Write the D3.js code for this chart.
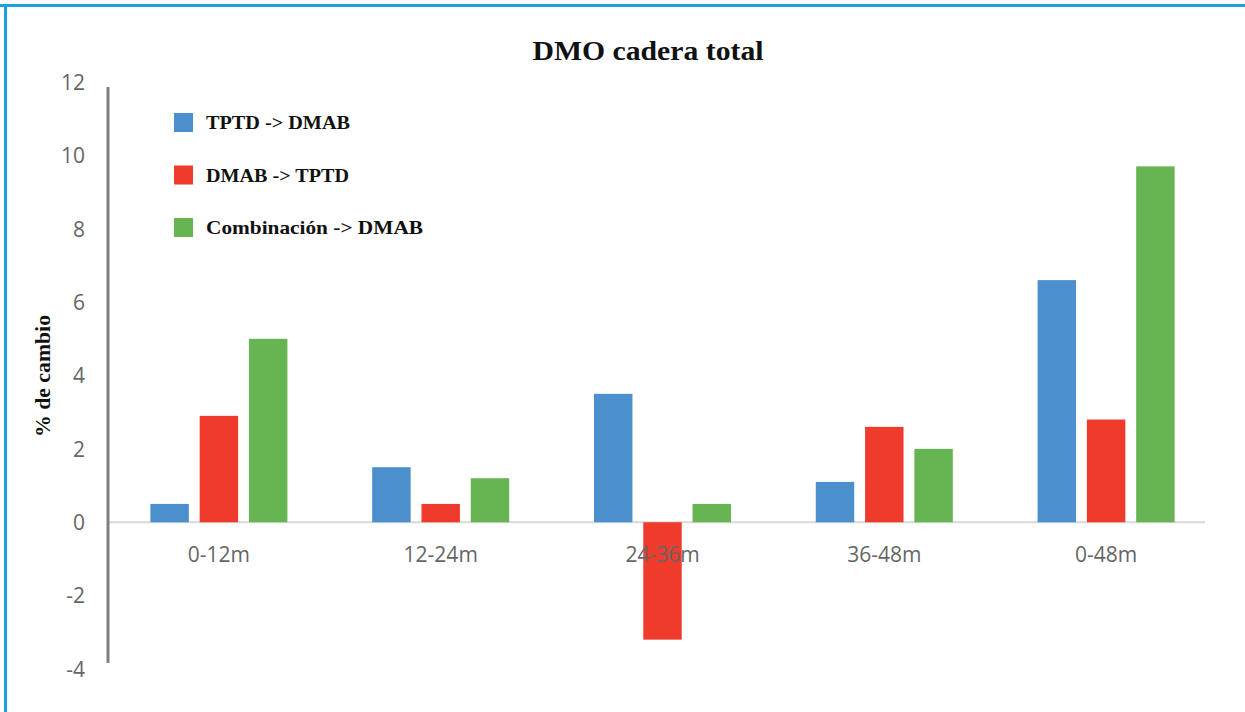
<!DOCTYPE html>
<html>
<head>
<meta charset="utf-8">
<script src="https://cdn.jsdelivr.net/npm/d3@7"></script>
<style>
  html, body { margin: 0; padding: 0; background: #fff; }
  svg { display: block; }
</style>
</head>
<body>
<svg id="chart" width="1245" height="712"></svg>
<script>
const categories = ["0-12m", "12-24m", "24-36m", "36-48m", "0-48m"];
const seriesNames = ["TPTD -> DMAB", "DMAB -> TPTD", "Combinación -> DMAB"];
const tptdToDmab = [0.5, 1.5, 3.5, 1.1, 6.6];
const dmabToTptd = [2.9, 0.5, -3.2, 2.6, 2.8];
const combToDmab = [5.0, 1.2, 0.5, 2.0, 9.7];
const yTicks = [-4, -2, 0, 2, 4, 6, 8, 10, 12];
const colors = ["#4b8fcd", "#ee3b2b", "#66b552"];
const titleText = "DMO cadera total";
const yLabel = "% de cambio";

const seriesValues = [tptdToDmab, dmabToTptd, combToDmab];
const data = categories.map((c, i) => ({
  cat: c,
  vals: seriesNames.map((s, j) => ({ key: s, value: seriesValues[j][i], color: colors[j] }))
}));

const svg = d3.select("#chart");

// frame (top and left blue border)
svg.append("line").attr("x1", 0).attr("x2", 1245).attr("y1", 5.5).attr("y2", 5.5)
  .attr("stroke", "#1ba2da").attr("stroke-width", 3);
svg.append("line").attr("x1", 5.5).attr("x2", 5.5).attr("y1", 4).attr("y2", 712)
  .attr("stroke", "#1ba2da").attr("stroke-width", 3);

const x0 = d3.scaleBand().domain(categories).range([108, 1217]).paddingInner(0).paddingOuter(0);
const x1 = d3.scaleBand().domain(seriesNames).range([0, x0.bandwidth()])
  .paddingInner(0.22).paddingOuter(0.86);
const y = d3.scaleLinear().domain([-4, 12]).range([669, 82]);

// zero baseline
svg.append("line")
  .attr("x1", 108).attr("x2", 1205)
  .attr("y1", y(0)).attr("y2", y(0))
  .attr("stroke", "#d9d9d9").attr("stroke-width", 2);

// bars
const groups = svg.append("g").selectAll("g").data(data).join("g")
  .attr("transform", d => `translate(${x0(d.cat)},0)`);
groups.selectAll("rect").data(d => d.vals).join("rect")
  .attr("x", d => x1(d.key))
  .attr("width", x1.bandwidth())
  .attr("y", d => y(Math.max(0, d.value)))
  .attr("height", d => Math.abs(y(d.value) - y(0)))
  .attr("fill", d => d.color);

// y axis ticks (labels only)
const yAxis = d3.axisLeft(y).tickValues(yTicks).tickSize(0).tickPadding(0).tickFormat(d => String(d));
const gy = svg.append("g").attr("transform", "translate(85,0)").call(yAxis);
gy.select(".domain").remove();
gy.selectAll("text")
  .attr("font-family", "'Open Sans', sans-serif")
  .attr("font-size", 21)
  .attr("fill", "#666")
  .attr("dy", "0.35em");

// vertical axis line
svg.append("line")
  .attr("x1", 108).attr("x2", 108)
  .attr("y1", 87).attr("y2", 663)
  .attr("stroke", "#7f7f84").attr("stroke-width", 3);

// x axis labels
const xAxis = d3.axisBottom(x0).tickSize(0).tickPadding(0);
const gx = svg.append("g").attr("transform", `translate(0,${y(0) + 32})`).call(xAxis);
gx.select(".domain").remove();
gx.selectAll("text")
  .attr("font-family", "'Open Sans', sans-serif")
  .attr("font-size", 21)
  .attr("fill", "#666")
  .attr("dy", "0.35em");

// title
svg.append("text")
  .attr("x", 648).attr("y", 60)
  .attr("text-anchor", "middle")
  .attr("font-family", "'Liberation Serif', serif")
  .attr("font-weight", "bold")
  .attr("font-size", 27)
  .attr("fill", "#111")
  .attr("textLength", 231)
  .attr("lengthAdjust", "spacingAndGlyphs")
  .text(titleText);

// y label
svg.append("text")
  .attr("transform", "translate(50,376) rotate(-90)")
  .attr("text-anchor", "middle")
  .attr("font-family", "'Liberation Serif', serif")
  .attr("font-weight", "bold")
  .attr("font-size", 20)
  .attr("fill", "#111")
  .attr("textLength", 122)
  .attr("lengthAdjust", "spacingAndGlyphs")
  .text(yLabel);

// legend
const legendWidths = [144, 143, 217];
const legend = svg.append("g").selectAll("g").data(seriesNames).join("g")
  .attr("transform", (d, i) => `translate(174,${113 + i * 52.5})`);
legend.append("rect").attr("width", 19).attr("height", 19)
  .attr("fill", (d, i) => colors[i]);
legend.append("text").attr("x", 32).attr("y", 16)
  .attr("font-family", "'Liberation Serif', serif")
  .attr("font-weight", "bold")
  .attr("font-size", 19.5)
  .attr("fill", "#111")
  .attr("textLength", (d, i) => legendWidths[i])
  .attr("lengthAdjust", "spacingAndGlyphs")
  .text(d => d);
</script>
</body>
</html>
